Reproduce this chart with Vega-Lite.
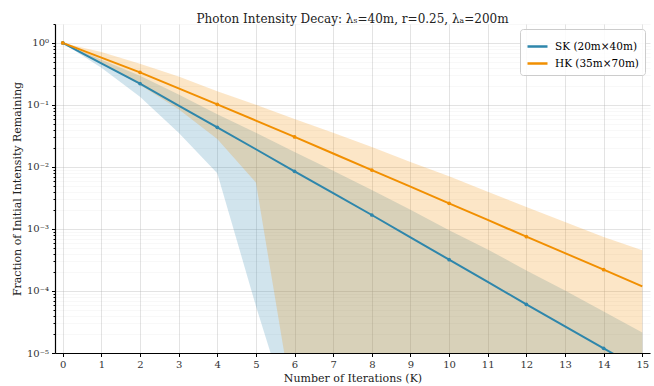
{
  "$schema": "https://vega.github.io/schema/vega-lite/v6.json",
  "width": 595,
  "height": 329,
  "autosize": {"type": "none"},
  "padding": {"left": 55, "top": 24, "right": 4, "bottom": 33},
  "title": {"text": "Photon Intensity Decay: λₛ=40m, r=0.25, λₐ=200m", "font": "DejaVu Serif", "fontSize": 12, "fontWeight": "normal", "color": "#222", "offset": 0, "dy": 7},
  "config": {
    "font": "DejaVu Serif",
    "view": {"stroke": null},
    "axis": {"labelFont": "DejaVu Serif", "titleFont": "DejaVu Serif", "labelFontSize": 10, "titleFontSize": 11, "titleFontWeight": "normal", "labelColor": "#333", "titleColor": "#222", "domainColor": "#000", "domainWidth": 1.2, "tickColor": "#000", "gridColor": "#b0b0b0"},
    "legend": {"labelFont": "DejaVu Serif", "labelFontSize": 10.5}
  },
  "data": {"values": [
    {"iteration": 0, "tower": "SK (20m×40m)", "intensity": 1, "lower": 1, "upper": 1},
    {"iteration": 1, "tower": "SK (20m×40m)", "intensity": 0.468, "lower": 0.398, "upper": 0.537},
    {"iteration": 2, "tower": "SK (20m×40m)", "intensity": 0.221, "lower": 0.135, "upper": 0.295},
    {"iteration": 3, "tower": "SK (20m×40m)", "intensity": 0.0977, "lower": 0.0355, "upper": 0.148},
    {"iteration": 4, "tower": "SK (20m×40m)", "intensity": 0.0436, "lower": 0.00794, "upper": 0.0708},
    {"iteration": 5, "tower": "SK (20m×40m)", "intensity": 0.0193, "lower": 0.0000575, "upper": 0.0355},
    {"iteration": 6, "tower": "SK (20m×40m)", "intensity": 0.00851, "lower": 0.000000575, "upper": 0.0174},
    {"iteration": 7, "tower": "SK (20m×40m)", "intensity": 0.0038, "lower": 1e-8, "upper": 0.00871},
    {"iteration": 8, "tower": "SK (20m×40m)", "intensity": 0.00168, "lower": 1e-8, "upper": 0.00427},
    {"iteration": 9, "tower": "SK (20m×40m)", "intensity": 0.000733, "lower": 1e-8, "upper": 0.00204},
    {"iteration": 10, "tower": "SK (20m×40m)", "intensity": 0.00032, "lower": 1e-8, "upper": 0.000955},
    {"iteration": 11, "tower": "SK (20m×40m)", "intensity": 0.00014, "lower": 1e-8, "upper": 0.000468},
    {"iteration": 12, "tower": "SK (20m×40m)", "intensity": 0.0000608, "lower": 1e-8, "upper": 0.000214},
    {"iteration": 13, "tower": "SK (20m×40m)", "intensity": 0.0000269, "lower": 1e-8, "upper": 0.000102},
    {"iteration": 14, "tower": "SK (20m×40m)", "intensity": 0.0000119, "lower": 1e-8, "upper": 0.0000468},
    {"iteration": 15, "tower": "SK (20m×40m)", "intensity": 0.00000525, "lower": 1e-8, "upper": 0.0000214},
    {"iteration": 0, "tower": "HK (35m×70m)", "intensity": 1, "lower": 1, "upper": 1},
    {"iteration": 1, "tower": "HK (35m×70m)", "intensity": 0.579, "lower": 0.479, "upper": 0.716},
    {"iteration": 2, "tower": "HK (35m×70m)", "intensity": 0.336, "lower": 0.209, "upper": 0.463},
    {"iteration": 3, "tower": "HK (35m×70m)", "intensity": 0.185, "lower": 0.0851, "upper": 0.288},
    {"iteration": 4, "tower": "HK (35m×70m)", "intensity": 0.102, "lower": 0.0282, "upper": 0.166},
    {"iteration": 5, "tower": "HK (35m×70m)", "intensity": 0.0558, "lower": 0.00562, "upper": 0.101},
    {"iteration": 6, "tower": "HK (35m×70m)", "intensity": 0.0305, "lower": 0.000001, "upper": 0.0592},
    {"iteration": 7, "tower": "HK (35m×70m)", "intensity": 0.0165, "lower": 1e-8, "upper": 0.0355},
    {"iteration": 8, "tower": "HK (35m×70m)", "intensity": 0.00891, "lower": 1e-8, "upper": 0.0209},
    {"iteration": 9, "tower": "HK (35m×70m)", "intensity": 0.00481, "lower": 1e-8, "upper": 0.012},
    {"iteration": 10, "tower": "HK (35m×70m)", "intensity": 0.00259, "lower": 1e-8, "upper": 0.00708},
    {"iteration": 11, "tower": "HK (35m×70m)", "intensity": 0.0014, "lower": 1e-8, "upper": 0.00398},
    {"iteration": 12, "tower": "HK (35m×70m)", "intensity": 0.000752, "lower": 1e-8, "upper": 0.00226},
    {"iteration": 13, "tower": "HK (35m×70m)", "intensity": 0.000407, "lower": 1e-8, "upper": 0.00129},
    {"iteration": 14, "tower": "HK (35m×70m)", "intensity": 0.000221, "lower": 1e-8, "upper": 0.000741},
    {"iteration": 15, "tower": "HK (35m×70m)", "intensity": 0.000119, "lower": 1e-8, "upper": 0.000452}
  ]},
  "encoding": {
    "x": {"field": "iteration", "type": "quantitative", "title": "Number of Iterations (K)",
      "scale": {"domain": [-0.2, 15.2], "nice": false, "zero": false},
      "axis": {"values": [0,1,2,3,4,5,6,7,8,9,10,11,12,13,14,15], "grid": true, "gridOpacity": 0.45, "gridWidth": 0.8, "tickSize": 3.5, "labelPadding": 3, "titlePadding": 3}},
    "color": {"field": "tower", "type": "nominal", "sort": ["SK (20m×40m)", "HK (35m×70m)"],
      "scale": {"domain": ["SK (20m×40m)", "HK (35m×70m)"], "range": ["#2E86AB", "#F18F01"]},
      "legend": {"title": null, "orient": "top-right", "offset": 5, "symbolType": "stroke", "symbolStrokeWidth": 2.5, "symbolOpacity": 1, "symbolSize": 400, "fillColor": "rgba(255,255,255,0.85)", "strokeColor": "#cccccc", "padding": 6, "cornerRadius": 3, "rowPadding": 0, "labelOffset": 6}}
  },
  "layer": [
    {
      "mark": {"type": "area", "opacity": 0.22, "clip": true},
      "encoding": {
        "y": {"field": "lower", "type": "quantitative",
          "scale": {"type": "log", "domain": [0.00001, 2.02], "nice": false},
          "title": "Fraction of Initial Intensity Remaining",
          "axis": {
            "values": [0.00001,0.00002,0.00003,0.00004,0.00005,0.00006,0.00007,0.00008,0.00009,0.0001,0.0002,0.0003,0.0004,0.0005,0.0006,0.0007,0.0008,0.0009,0.001,0.002,0.003,0.004,0.005,0.006,0.007,0.008,0.009,0.01,0.02,0.03,0.04,0.05,0.06,0.07,0.08,0.09,0.1,0.2,0.3,0.4,0.5,0.6,0.7,0.8,0.9,1,2],
            "labelExpr": "abs(log(datum.value)/LN10 - round(log(datum.value)/LN10)) > 0.001 ? '' : (round(log(datum.value)/LN10) == 0 ? '10⁰' : round(log(datum.value)/LN10) == -1 ? '10⁻¹' : round(log(datum.value)/LN10) == -2 ? '10⁻²' : round(log(datum.value)/LN10) == -3 ? '10⁻³' : round(log(datum.value)/LN10) == -4 ? '10⁻⁴' : '10⁻⁵')",
            "grid": true,
            "gridOpacity": {"condition": {"test": "abs(log(datum.value)/LN10 - round(log(datum.value)/LN10)) > 0.001", "value": 0.12}, "value": 0.45},
            "gridWidth": 0.8,
            "tickSize": {"condition": {"test": "abs(log(datum.value)/LN10 - round(log(datum.value)/LN10)) > 0.001", "value": 2}, "value": 3.5},
            "labelPadding": 3, "titlePadding": 4, "labelOverlap": false, "labelBound": false
          }},
        "y2": {"field": "upper"}
      }
    },
    {
      "mark": {"type": "line", "strokeWidth": 2, "clip": true},
      "encoding": {"y": {"field": "intensity", "type": "quantitative"}}
    },
    {
      "transform": [{"filter": "datum.iteration % 2 == 0"}],
      "mark": {"type": "point", "filled": true, "size": 14, "opacity": 1, "clip": true},
      "encoding": {"y": {"field": "intensity", "type": "quantitative"}}
    }
  ]
}
